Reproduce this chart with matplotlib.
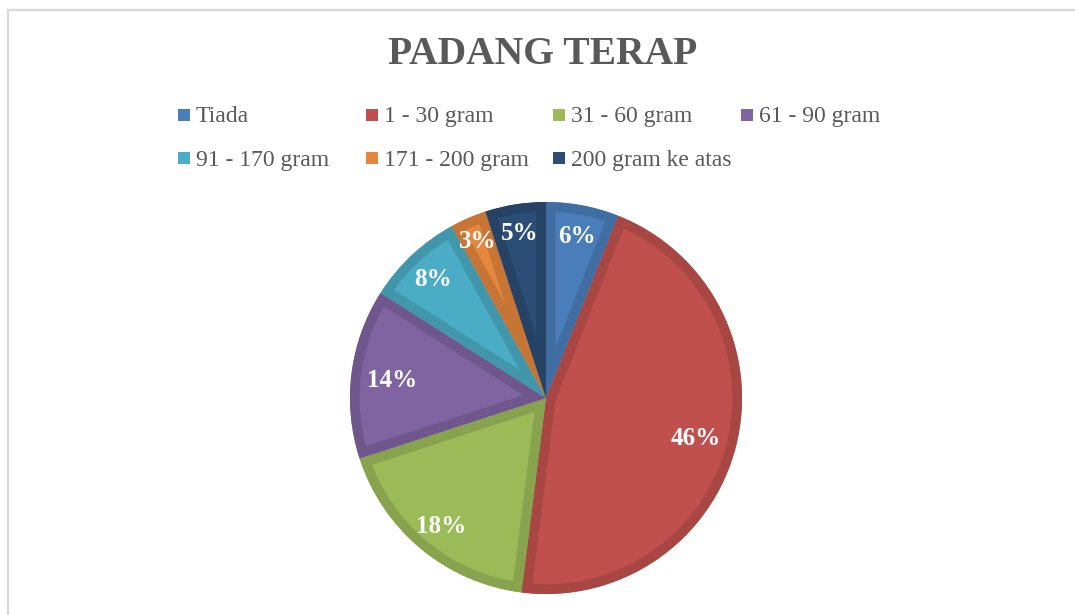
import matplotlib
matplotlib.use("Agg")
import matplotlib.pyplot as plt
from matplotlib.patches import Rectangle
import numpy as np

# ---- data ----
title = "PADANG TERAP"
categories = ["Tiada", "1 - 30 gram", "31 - 60 gram", "61 - 90 gram",
              "91 - 170 gram", "171 - 200 gram", "200 gram ke atas"]
values = [6, 46, 18, 14, 8, 3, 5]
colors = ["#4A7EBB", "#C0504D", "#9BBB59", "#8064A2", "#4BACC6", "#E5873D", "#2C4D75"]

# ---- layout ----
W, H = 1075, 615
fig = plt.figure(figsize=(W / 100, H / 100), dpi=100)
fig.patch.set_facecolor("white")

# chart border (light grey, top & left visible)
fig.patches.append(Rectangle((8 / W, -0.05), 1.2, (H - 10) / H + 0.05,
                             transform=fig.transFigure, fill=False,
                             edgecolor="#D9D9D9", linewidth=1.6))

serif = ["Liberation Serif", "DejaVu Serif"]
fig.text(543 / W, 1 - 55 / H, title, ha="center", va="center",
         fontsize=28.5, fontweight="bold", color="#595959", family=serif)

# legend (manual, uniform column widths like Excel)
col_x = [178, 366, 553, 741]
row_y = [115, 158]
sq = 12
for i, (cat, col) in enumerate(zip(categories, colors)):
    r, c = divmod(i, 4)
    x, y = col_x[c], row_y[r]
    fig.patches.append(Rectangle((x / W, 1 - (y + sq / 2) / H), sq / W, sq / H,
                                 transform=fig.transFigure, facecolor=col,
                                 edgecolor="none"))
    fig.text((x + sq + 6) / W, 1 - (y + 2) / H, cat, ha="left", va="center",
             fontsize=17, color="#595959", family=serif)

# pie
cx, cy, R = 546, 398, 196
pad = 1.06
side = 2 * R * pad
ax = fig.add_axes([(cx - side / 2) / W, (H - cy - side / 2) / H, side / W, side / H])

wedges, _ = ax.pie(values, colors=colors, startangle=90, counterclock=False,
                   radius=1.0, wedgeprops=dict(linewidth=0))
ax.set_xlim(-pad, pad)
ax.set_ylim(-pad, pad)
ax.axis("off")

def darker(c, f=0.87):
    rgb = np.array(matplotlib.colors.to_rgb(c))
    return tuple(rgb * f)

for w, col in zip(wedges, colors):
    # bevel-like inner dark band: stroke clipped to the wedge
    w2 = matplotlib.patches.Wedge(w.center, w.r, w.theta1, w.theta2,
                                  facecolor="none", edgecolor=darker(col),
                                  linewidth=14)
    ax.add_patch(w2)
    w2.set_clip_path(w)

label_dist = [0.85, 0.79, 0.84, 0.79, 0.84, 0.88, 0.86]
total = sum(values)
for w, v, d in zip(wedges, values, label_dist):
    ang = np.deg2rad((w.theta1 + w.theta2) / 2)
    ax.text(d * np.cos(ang), d * np.sin(ang) - 0.01, f"{v / total * 100:.0f}%",
            ha="center", va="center", fontsize=18, fontweight="bold",
            color="white", family=serif)

fig.savefig("out.png", dpi=100, facecolor="white")
